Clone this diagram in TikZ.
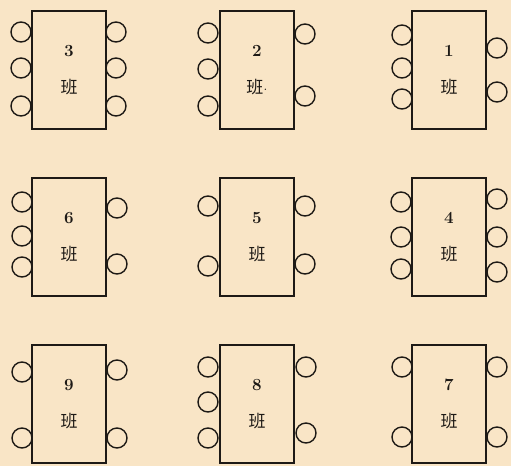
\documentclass[tikz,border=0pt]{standalone}
\usepackage{fontspec}
\newfontfamily\cjk{Noto Sans CJK SC}
\definecolor{paper}{RGB}{249,229,198}
\definecolor{ink}{RGB}{30,26,22}

\begin{document}
\begin{tikzpicture}[
    x=1pt, y=-1pt,
    table/.style={draw=ink, line width=1.8pt, rectangle, inner sep=0pt,
        minimum width=74pt, minimum height=118pt, align=center,
        font=\fontsize{17}{37}\selectfont, text=ink},
    chair/.style={draw=ink, line width=1.4pt, circle, inner sep=0pt, minimum size=20pt},
]
  \fill[paper] (0,0) rectangle (511,466);
  \useasboundingbox (0,0) rectangle (511,466);

  % tables
  \node[table] (t3) at (69,70)    {\textbf{3}\\{\cjk 班}};
  \node[table] (t2) at (257,70)   {\textbf{2}\\{\cjk 班}\raisebox{3pt}{.}};
  \node[table] (t1) at (449,70)   {\textbf{1}\\{\cjk 班}};
  \node[table] (t6) at (69,237)   {\textbf{6}\\{\cjk 班}};
  \node[table] (t5) at (257,237)  {\textbf{5}\\{\cjk 班}};
  \node[table] (t4) at (449,237)  {\textbf{4}\\{\cjk 班}};
  \node[table] (t9) at (69,404)   {\textbf{9}\\{\cjk 班}};
  \node[table] (t8) at (257,404)  {\textbf{8}\\{\cjk 班}};
  \node[table] (t7) at (449,404)  {\textbf{7}\\{\cjk 班}};

  % chairs
  \foreach \x/\y [count=\i] in {21/32, 21/68, 21/106, 116/32, 116/68, 116/106,
      208/33, 208/69, 208/106, 305/34, 305/96,
      402/35, 402/68, 402/99, 497/48, 497/92,
      22/202, 22/236, 22/267, 117/208, 117/264,
      208/206, 208/266, 305/206, 305/264,
      401/202, 401/237, 401/269, 497/199, 497/237, 497/272,
      22/372, 22/438, 117/370, 117/438,
      208/367, 208/402, 208/438, 306/367, 306/433,
      402/367, 402/437, 497/367, 497/437}
    \node[chair] (ch\i) at (\x,\y) {};
\end{tikzpicture}
\end{document}
